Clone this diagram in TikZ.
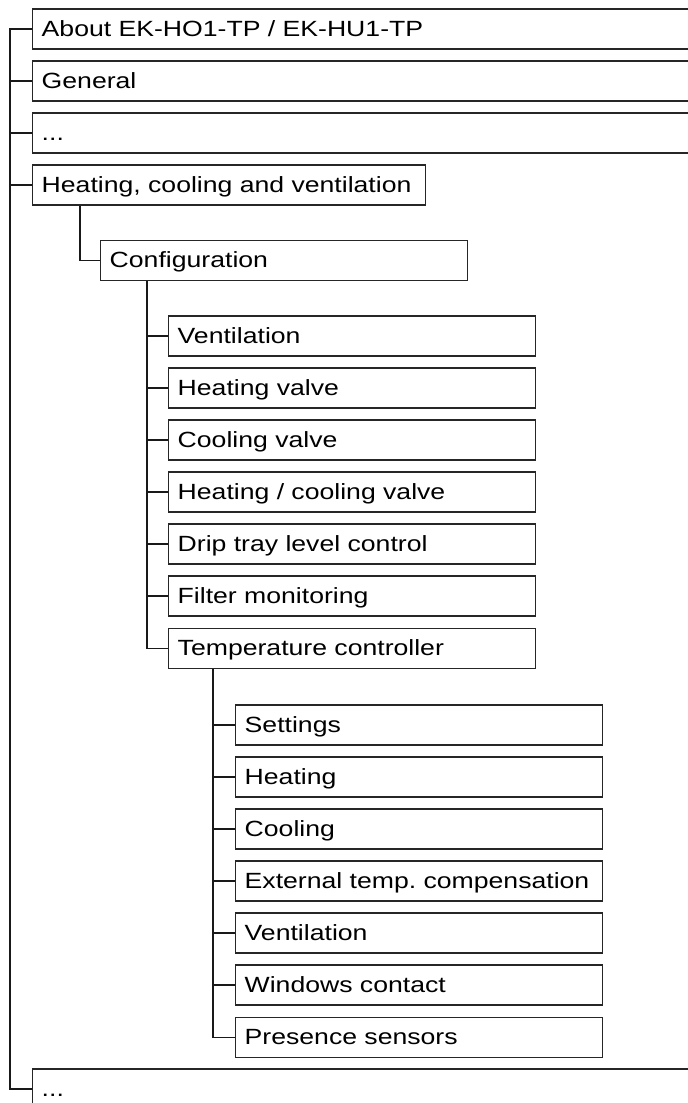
\documentclass[tikz,border=0pt]{standalone}
\usepackage{fontspec}
\setmainfont{Liberation Sans}[FakeStretch=1.21]
\begin{document}
\frenchspacing
\begin{tikzpicture}[x=1pt,y=-1pt,
  box/.style={draw=black!85, line width=1.4pt, fill=white, anchor=west,
    minimum height=40pt, inner xsep=9pt, inner ysep=0pt, align=left,
    text height=16pt, text depth=1.4pt,
    font=\fontsize{22}{25}\selectfont},
  conn/.style={draw=black!90, line width=1.4pt}]
\clip (0,0) rectangle (688,1103);
% top level
\node[box, text width=652pt] (b1) at (32,29) {About EK-HO1-TP / EK-HU1-TP};
\node[box, text width=652pt] (b2) at (32,81) {General};
\node[box, text width=652pt] (b3) at (32,133) {...};
\node[box, text width=375pt] (hcv) at (32,185) {Heating, cooling and ventilation};
\node[box, text width=652pt] (b5) at (32,1089) {...};
\coordinate (t0) at (10,29);
\draw[conn] (b1.west) -- (t0) |- (b5.west);
\foreach \n in {b2,b3,hcv} \draw[conn] (t0) |- (\n.west);
% configuration
\node[box, text width=349pt] (conf) at (100,260.5) {Configuration};
\draw[conn] ([xshift=48pt]hcv.south west) |- (conf.west);
% configuration children
\node[box, text width=349pt] (c1) at (168,336) {Ventilation};
\node[box, text width=349pt] (c2) at (168,388) {Heating valve};
\node[box, text width=349pt] (c3) at (168,440) {Cooling valve};
\node[box, text width=349pt] (c4) at (168,492) {Heating / cooling valve};
\node[box, text width=349pt] (c5) at (168,544) {Drip tray level control};
\node[box, text width=349pt] (c6) at (168,596) {Filter monitoring};
\node[box, text width=349pt] (tc) at (168,648.5) {Temperature controller};
\coordinate (t1) at ([xshift=47pt]conf.south west);
\foreach \n in {c1,c2,c3,c4,c5,c6,tc} \draw[conn] (t1) |- (\n.west);
% temperature controller children
\node[box, text width=349pt] (d1) at (235,725) {Settings};
\node[box, text width=349pt] (d2) at (235,777) {Heating};
\node[box, text width=349pt] (d3) at (235,829) {Cooling};
\node[box, text width=349pt] (d4) at (235,881) {External temp. compensation};
\node[box, text width=349pt] (d5) at (235,933) {Ventilation};
\node[box, text width=349pt] (d6) at (235,985) {Windows contact};
\node[box, text width=349pt] (d7) at (235,1037.5) {Presence sensors};
\coordinate (t2) at ([xshift=45pt]tc.south west);
\foreach \n in {d1,d2,d3,d4,d5,d6,d7} \draw[conn] (t2) |- (\n.west);
\end{tikzpicture}
\end{document}
